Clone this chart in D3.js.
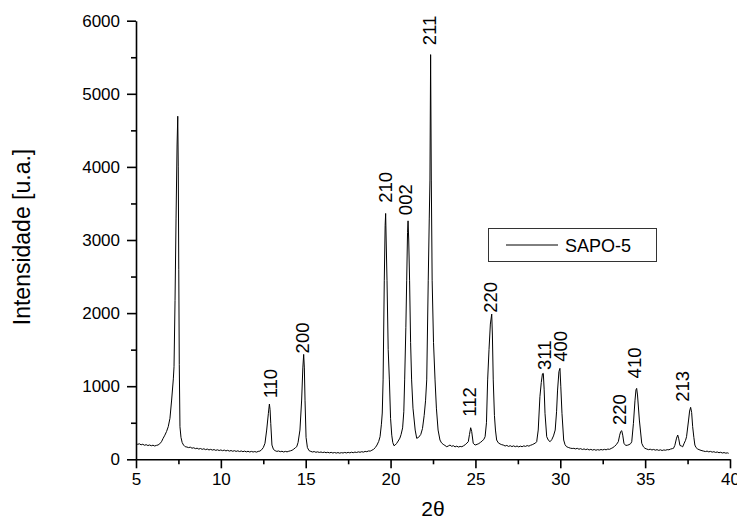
<!DOCTYPE html>
<html>
<head>
<meta charset="utf-8">
<script src="https://cdn.jsdelivr.net/npm/d3@7"></script>
<style>
html,body{margin:0;padding:0;background:#fff;}
svg{display:block;}
text{font-family:"Liberation Sans",Arial,Helvetica,sans-serif;fill:#000;}
</style>
</head>
<body>
<svg id="chart" width="737" height="521"></svg>
<script>
// ---- data ----
const seriesName = "SAPO-5";
const xTitle = "2θ";
const yTitle = "Intensidade [u.a.]";
const xTicks = [5, 10, 15, 20, 25, 30, 35, 40];
const xMinorTicks = [7.5, 12.5, 17.5, 22.5, 27.5, 32.5, 37.5];
const yTicks = [0, 1000, 2000, 3000, 4000, 5000, 6000];
const yMinorTicks = [500, 1500, 2500, 3500, 4500, 5500];

const twoTheta = [
 5.0,5.1,5.2,5.3,5.4,5.5,5.6,5.7,5.8,5.9,6.0,6.1,6.2,6.3,6.4,6.5,6.6,6.7,6.8,6.9,
 7.0,7.1,7.2,7.24,7.3,7.36,7.42,7.46,7.49,7.52,7.55,7.59,7.65,7.72,7.8,7.9,
 8.0,8.1,8.2,8.3,8.4,8.5,8.6,8.7,8.8,8.9,9.0,9.1,9.2,9.3,9.4,9.5,9.6,9.7,9.8,9.9,
 10.0,10.1,10.2,10.3,10.4,10.5,10.6,10.7,10.8,10.9,11.0,11.1,11.2,11.3,11.4,11.5,11.6,11.7,11.8,11.9,
 12.0,12.1,12.2,12.3,12.4,12.5,12.6,12.7,12.8,12.86,12.9,12.94,13.01,13.1,13.2,13.3,13.4,13.5,13.6,13.7,13.8,13.9,
 14.0,14.1,14.2,14.3,14.4,14.47,14.55,14.66,14.76,14.83,14.88,14.92,14.96,15.02,15.1,15.2,15.3,15.4,15.5,15.6,15.7,15.8,15.9,
 16.0,16.1,16.2,16.3,16.4,16.5,16.6,16.7,16.8,16.9,17.0,17.1,17.2,17.3,17.4,17.5,17.6,17.7,17.8,17.9,
 18.0,18.1,18.2,18.3,18.4,18.5,18.6,18.7,18.8,18.9,19.0,19.1,19.2,19.3,19.38,19.46,19.51,19.56,19.63,19.68,19.71,19.74,19.79,19.86,19.93,
 20.0,20.07,20.13,20.2,20.27,20.35,20.45,20.55,20.62,20.71,20.78,20.83,20.9,20.95,21.0,21.03,21.07,21.12,21.18,21.24,21.32,21.45,21.54,21.65,21.78,21.88,21.98,
 22.06,22.13,22.22,22.28,22.32,22.36,22.4,22.45,22.53,22.62,22.7,22.8,22.91,23.0,23.1,23.2,23.31,23.4,23.5,23.6,23.7,23.8,23.9,
 24.0,24.1,24.2,24.3,24.4,24.5,24.58,24.65,24.72,24.78,24.87,24.98,25.1,25.2,25.3,25.4,25.5,25.57,25.65,25.72,25.8,25.88,25.96,
 26.0,26.05,26.12,26.18,26.25,26.35,26.45,26.55,26.64,26.75,26.85,26.95,27.05,27.15,27.25,27.35,27.45,27.55,27.65,27.75,27.85,27.95,
 28.05,28.15,28.25,28.35,28.45,28.55,28.61,28.7,28.8,28.88,28.95,29.0,29.05,29.1,29.2,29.3,29.4,29.5,29.6,29.7,29.78,29.84,29.92,29.98,
 30.03,30.1,30.2,30.28,30.37,30.5,30.6,30.7,30.8,30.9,31.0,31.1,31.2,31.3,31.4,31.5,31.6,31.7,31.8,31.9,
 32.0,32.1,32.2,32.3,32.4,32.5,32.6,32.7,32.8,32.9,33.0,33.1,33.2,33.3,33.42,33.5,33.56,33.62,33.68,33.75,33.85,33.95,
 34.05,34.15,34.21,34.31,34.4,34.46,34.5,34.55,34.66,34.8,34.9,34.99,35.1,35.2,35.3,35.4,35.5,35.6,35.7,35.8,35.9,
 36.0,36.1,36.2,36.3,36.4,36.5,36.6,36.67,36.75,36.85,36.92,36.98,37.05,37.15,37.21,37.3,37.38,37.44,37.56,37.62,37.68,37.74,37.8,37.87,37.93,
 38.0,38.1,38.23,38.35,38.45,38.55,38.65,38.75,38.85,38.95,39.05,39.15,39.25,39.35,39.45,39.55,39.65,39.75,39.85,39.92
];
const intensity = [
 215,205,212,198,206,192,200,188,196,185,193,182,190,196,212,240,287,330,380,446,
 560,811,1100,1266,2174,3300,4300,4693,4000,2600,1300,446,300,230,195,172,
 168,160,166,152,158,146,152,140,148,136,144,132,140,128,136,126,133,122,130,120,
 128,118,126,115,123,112,120,110,118,108,116,106,114,104,112,102,110,100,108,100,
 106,98,108,112,130,160,219,400,629,756,680,492,195,135,118,108,114,104,110,100,108,102,
 110,116,124,140,160,172,230,400,811,1250,1435,1250,800,300,160,118,108,100,106,96,102,94,100,
 92,98,90,96,88,95,86,93,85,92,84,91,86,94,87,95,88,97,90,99,
 93,102,96,104,98,108,104,114,112,124,137,160,195,245,309,480,633,1086,2450,3200,3363,3000,2450,1500,1086,
 560,330,230,186,195,215,250,290,340,430,650,1086,1800,2450,3100,3262,3000,2450,1600,1086,700,400,287,300,340,420,600,
 800,1086,2450,3300,3820,5536,3820,2450,1600,1086,700,400,264,225,205,190,172,182,195,178,186,170,180,
 168,176,172,185,200,222,241,340,432,380,219,195,205,215,232,250,275,309,500,1086,1500,1850,1986,
 1700,1086,600,400,264,225,210,200,195,182,190,176,186,174,184,172,182,170,180,172,184,176,
 188,180,192,200,212,225,241,400,856,1050,1170,1175,950,629,309,260,241,270,320,400,650,947,1200,1244,
 1000,629,264,200,172,160,152,148,150,142,150,138,146,134,142,132,140,128,136,126,
 134,124,132,126,134,128,136,130,140,136,148,160,178,200,241,330,380,391,330,219,190,192,
 200,215,240,492,800,950,970,880,537,219,170,150,140,132,138,128,135,125,132,122,130,
 120,128,124,132,130,140,146,150,190,290,332,280,190,180,170,220,260,309,537,660,711,640,446,300,195,
 160,140,127,118,112,106,112,102,108,98,104,94,100,90,96,86,92,84,88,82
];

const hklLabels    = ["110","200","210","002","211","112","220","311","400","220","410","213"];
const hklTheta     = [12.90,14.81,19.67,20.89,22.27,24.63,25.89,29.05,30.03,33.47,34.36,37.20];
const hklIntensity = [834,1449,3508,3340,5664,582,2005,1221,1334,469,1107,787];

// ---- layout ----
const svg = d3.select("#chart");
const L = 136, R = 730, T = 20.7, B = 459.3;
const x = d3.scaleLinear().domain([5, 40]).range([L, R]);
const y = d3.scaleLinear().domain([0, 6000]).range([B, T]);

const data = twoTheta.map((t, i) => ({t, v: intensity[i]}));

// data line
svg.append("path")
  .datum(data)
  .attr("fill", "none")
  .attr("stroke", "#000")
  .attr("stroke-width", 1)
  .attr("stroke-linejoin", "round")
  .attr("d", d3.line().x(d => x(d.t)).y(d => y(d.v)));

// axes
function styleAxis(g) {
  g.selectAll("path.domain").attr("stroke", "#000").attr("stroke-width", 1.6);
  g.selectAll(".tick line").attr("stroke", "#000").attr("stroke-width", 1.6);
  g.selectAll(".tick text").attr("font-family", "Liberation Sans, Arial, sans-serif").attr("fill", "#000");
}
const xAxisG = svg.append("g").attr("transform", `translate(0,${B})`)
  .call(d3.axisBottom(x).tickValues(xTicks).tickSize(9).tickSizeOuter(0).tickPadding(5).tickFormat(d3.format("d")));
xAxisG.attr("font-size", 17);
styleAxis(xAxisG);
const xMinorG = svg.append("g").attr("transform", `translate(0,${B})`)
  .call(d3.axisBottom(x).tickValues(xMinorTicks).tickSize(5).tickSizeOuter(0).tickFormat(""));
xMinorG.select("path.domain").remove();
styleAxis(xMinorG);

const yAxisG = svg.append("g").attr("transform", `translate(${L},0)`)
  .call(d3.axisLeft(y).tickValues(yTicks).tickSize(9).tickSizeOuter(0).tickPadding(7).tickFormat(d3.format("d")));
yAxisG.attr("font-size", 17);
styleAxis(yAxisG);
const yMinorG = svg.append("g").attr("transform", `translate(${L},0)`)
  .call(d3.axisLeft(y).tickValues(yMinorTicks).tickSize(5).tickSizeOuter(0).tickFormat(""));
yMinorG.select("path.domain").remove();
styleAxis(yMinorG);

// axis titles
svg.append("text")
  .attr("x", (L + R) / 2).attr("y", 516)
  .attr("text-anchor", "middle").attr("font-size", 21)
  .text(xTitle);
svg.append("text")
  .attr("transform", `translate(30,${(T + B) / 2 - 3}) rotate(-90)`)
  .attr("text-anchor", "middle").attr("font-size", 23)
  .text(yTitle);

// hkl labels
svg.append("g").selectAll("text")
  .data(hklLabels.map((s, i) => ({s, t: hklTheta[i], v: hklIntensity[i]})))
  .join("text")
  .attr("transform", d => `translate(${x(d.t)},${y(d.v)}) rotate(-90)`)
  .attr("dy", "0.36em")
  .attr("text-anchor", "start")
  .attr("font-size", 18.5)
  .text(d => d.s);

// legend
const lg = svg.append("g");
lg.append("rect").attr("x", 488.5).attr("y", 228.5).attr("width", 168).attr("height", 33)
  .attr("fill", "#fff").attr("stroke", "#333").attr("stroke-width", 1);
lg.append("line").attr("x1", 506).attr("x2", 558).attr("y1", 245).attr("y2", 245)
  .attr("stroke", "#000").attr("stroke-width", 1);
lg.append("text").attr("x", 565).attr("y", 251.5).attr("font-size", 18).text(seriesName);
</script>
</body>
</html>
